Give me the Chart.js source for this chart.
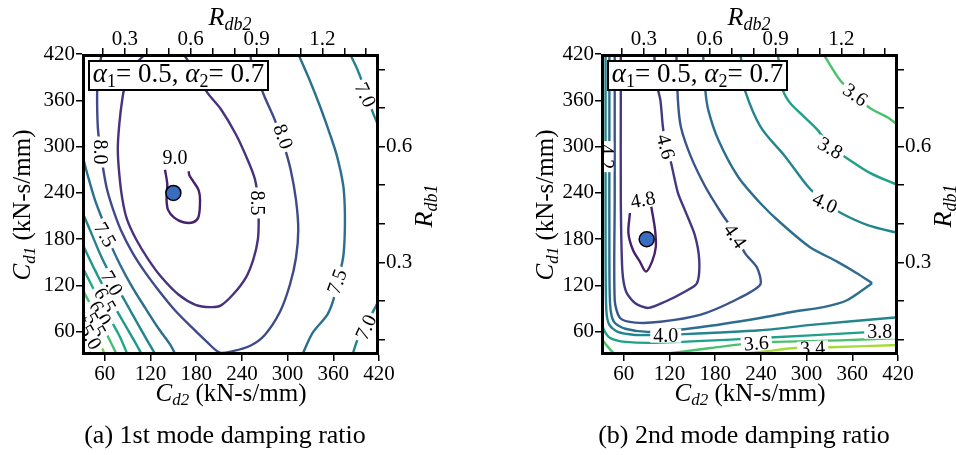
<!DOCTYPE html>
<html>
<head>
<meta charset="utf-8">
<script src="https://cdn.jsdelivr.net/npm/chart.js@4.4.1/dist/chart.umd.min.js"></script>
<style>
html,body{margin:0;padding:0;background:#fff;}
body{width:956px;height:455px;position:relative;overflow:hidden;font-family:'Liberation Serif',serif;}
.panel{position:absolute;top:0;width:478px;height:455px;}
.warm{position:absolute;left:-999px;top:0;font-size:20px;}
</style>
</head>
<body>
<span class="warm">0.3 <i>Cd</i> αα</span>
<div class="panel" style="left:0"><canvas id="chartA" width="478" height="455"></canvas></div>
<div class="panel" style="left:478px"><canvas id="chartB" width="478" height="455"></canvas></div>
<script>
// ---------- axis values ----------
const AXIS_MIN = 30, AXIS_MAX = 420;
const CD_TICKS = [60, 120, 180, 240, 300, 360, 420];
const RDB2_TICKS = [0.2, 0.3, 0.4, 0.5, 0.6, 0.7, 0.8, 0.9, 1.0, 1.1, 1.2, 1.3, 1.4];
const RDB2_LABELS = [0.3, 0.6, 0.9, 1.2];
const RDB1_TICKS = [0.1, 0.2, 0.3, 0.4, 0.5, 0.6, 0.7, 0.8];
const RDB1_LABELS = [0.3, 0.6];
const CD2_PER_RDB2 = 288;   // C_d2 value for R_db2 = 1
const CD1_PER_RDB1 = 500;   // C_d1 value for R_db1 = 1

// ---------- (a) 1st mode damping ratio : contour lines [C_d2, C_d1] ----------
const a_optimum = [150, 240];
const a_c90 = [[139,270],[142,251],[141,232],[143,218],[151,208],[163,202],[176,202],[183,209],[185,231],[183,244],[176,255],[171,263],[170,268]];
const a_c85 = [[113,420],[97,403],[87,381],[83,362],[79,329],[77,297],[79,264],[83,232],[89,206],[101,180],[117,154],[135,130],[157,108],[179,95],[199,92],[212,94],[228,108],[245,130],[255,154],[261,180],[262,206],[261,232],[257,258],[247,284],[232,316],[212,349],[196,368],[179,394],[170,410],[163,420]];
const a_c80 = [[56,420],[52,399],[50,373],[50,347],[51,322],[54,296],[58,270],[63,244],[71,218],[81,192],[96,163],[113,137],[132,112],[152,88],[174,66],[194,47],[211,33],[228,35],[251,42],[270,56],[290,86],[303,121],[311,156],[314,192],[311,231],[304,270],[295,302],[283,335],[270,364],[260,389],[253,406],[251,420]];
const a_c75_left = [[31,287],[38,261],[47,231],[58,202],[67,175],[80,147],[96,118],[113,91],[130,65],[146,43],[153,30]];
const a_c75_right = [[314,420],[329,386],[343,351],[356,315],[365,287],[373,250],[375,222],[375,186],[373,157],[368,134],[360,101],[352,82],[333,59],[320,32]];
const a_c70_top = [[382,420],[392,399],[402,373],[412,344],[420,325]];
const a_c70_bottom = [[420,101],[412,86],[402,66],[392,50],[385,30]];
const a_c70_left = [[31,214],[43,186],[56,156],[71,127],[87,99],[104,69],[119,43],[127,30]];
const a_c65 = [[31,173],[47,140],[64,108],[83,75],[100,46],[109,30]];
const a_c60 = [[31,143],[47,112],[64,82],[80,53],[90,30]];
const a_c55 = [[31,114],[47,85],[63,56],[76,30]];
const a_c50 = [[31,88],[47,62],[60,30]];
const a_c45 = [[31,62],[44,30]];

// ---------- (b) 2nd mode damping ratio ----------
const b_optimum = [90, 180];
const b_c48 = [[68,214],[66,188],[72,166],[81,151],[89,138],[97,151],[102,170],[101,192],[98,211],[96,222]];
const b_c46 = [[56,420],[56,360],[56,231],[58,140],[63,112],[75,97],[92,91],[114,99],[140,112],[156,123],[159,153],[153,186],[140,218],[131,240],[121,283],[115,300],[111,328],[108,360],[102,386],[100,420]];
const b_c44 = [[48,420],[48,231],[48,101],[55,78],[75,72],[108,73],[160,82],[206,101],[239,121],[235,143],[219,162],[206,188],[188,214],[167,248],[148,287],[135,325],[131,360],[129,420]];
const b_c42_lower = [[41,420],[41,296],[41,166],[42,95],[47,73],[62,64],[94,60],[160,66],[239,78],[282,86],[322,92],[353,101],[386,123]];
const b_c42_upper = [[386,123],[366,136],[340,151],[304,170],[265,202],[239,227],[210,261],[184,309],[171,347],[167,373],[164,420]];
const b_c40_upper = [[213,420],[217,393],[219,373],[240,325],[272,287],[302,248],[324,228],[345,214],[381,198],[420,188]];
const b_c40_lower = [[36,420],[36,166],[37,88],[41,69],[52,60],[75,56],[94,56],[140,57],[239,62],[306,69],[420,79]];
const b_c38_upper = [[262,420],[266,395],[269,373],[278,357],[291,344],[314,322],[331,300],[353,285],[383,266],[420,250]];
const b_c38_lower = [[30,75],[34,62],[42,52],[62,47],[108,46],[239,52],[370,59],[420,62]];
const b_c36_upper = [[322,420],[344,386],[364,367],[383,350],[406,338],[420,328]];
const b_c36_corner = [[30,52],[37,43],[44,35],[48,30]];
const b_c36_lower = [[101,30],[134,34],[174,39],[234,46],[259,47],[344,49],[420,52]];
const b_c34 = [[193,30],[239,34],[285,39],[332,40],[420,43]];

// contour label positions [C_d2, C_d1, text, angle(deg)]
const a_labels = [[152,285,'9.0',0],[260,227,'8.5',90],[294,313,'8.0',70],[54,293,'8.0',90],[60,186,'7.5',60],[365,125,'7.5',-70],[402,367,'7.0',65],[403,66,'7.0',-65],[69,123,'7.0',60],[60,101,'6.5',60],[54,84,'6.0',60],[47,69,'5.5',60],[41,53,'5.0',60]];
const b_labels = [[85,231,'4.8',-10],[115,300,'4.6',75],[206,184,'4.4',55],[37,287,'4.2',90],[324,227,'4.0',25],[115,55,'4.0',0],[331,298,'3.8',30],[396,60,'3.8',0],[364,367,'3.6',35],[234,45,'3.6',-4],[308,39,'3.4',-3]];

// ---------- styles ----------
const SERIF = "'Liberation Serif', serif";
const LEVEL_COLORS = {
  '9.0':'#47206f','8.5':'#46327e','8.0':'#3e4a89','7.5':'#2b6f8e','7.0':'#23838e','6.5':'#1f988b','6.0':'#22a884','5.5':'#44bf70','5.0':'#7ad151','4.5':'#bddf26',
  '4.8':'#47206f','4.6':'#453781','4.4':'#39568c','4.2':'#2d6e8e','4.0':'#23868e','3.8':'#1fa088','3.6':'#4ac16d','3.4':'#a5db36'
};

function lineSet(level, arr, tension){
  return {label: level, data: arr.map(p => ({x: p[0], y: p[1]})), showLine: true, borderColor: LEVEL_COLORS[level],
    borderWidth: 2.4, pointRadius: 0, tension: tension === undefined ? 0.3 : tension, fill: false, order: 2};
}
function dotSet(pt){
  return {label:'optimum', data:[{x:pt[0], y:pt[1]}], showLine:false, pointRadius:7.5, pointBackgroundColor:'#3a6cc2',
    pointBorderColor:'#000', pointBorderWidth:1.5, order: 0};
}

function drawRich(ctx, parts, cx, cy, rot, size){
  ctx.save();
  ctx.translate(cx, cy); ctx.rotate(rot);
  let total = 0;
  const segs = parts.map(p => {
    const fs = Math.round(p.sub ? size * 0.68 : size);
    const font = (p.italic ? 'italic ' : 'normal ') + fs + 'px ' + SERIF;
    ctx.font = font;
    const w = ctx.measureText(p.t).width;
    total += w;
    return {t: p.t, font, w, dy: p.sub ? size * 0.28 : 0};
  });
  let x = -total / 2;
  ctx.textBaseline = 'middle'; ctx.textAlign = 'left'; ctx.fillStyle = '#000';
  segs.forEach(s => { ctx.font = s.font; ctx.fillText(s.t, x, s.dy); x += s.w; });
  ctx.restore();
}

const decorPlugin = {
  id: 'decor',
  afterDatasetsDraw(chart, args, opts){
    const ctx = chart.ctx, ca = chart.chartArea;
    const xs = chart.scales.x, ys = chart.scales.y;
    ctx.save();
    ctx.beginPath(); ctx.rect(ca.left, ca.top, ca.right - ca.left, ca.bottom - ca.top); ctx.clip();
    ctx.font = '20px ' + SERIF;
    ctx.textAlign = 'center'; ctx.textBaseline = 'middle';
    opts.labels.forEach(l => {
      const px = xs.getPixelForValue(l[0]), py = ys.getPixelForValue(l[1]);
      ctx.save();
      ctx.translate(px, py); ctx.rotate(l[3] * Math.PI / 180);
      const w = ctx.measureText(l[2]).width;
      ctx.fillStyle = '#fff';
      ctx.fillRect(-w/2 - 3, -7, w + 6, 14);
      ctx.fillStyle = '#000';
      ctx.fillText(l[2], 0, 1);
      ctx.restore();
    });
    ctx.restore();
    const bx = ca.left + 7, by = ca.top + 7, bw = 179, bh = 29;
    ctx.save();
    ctx.fillStyle = '#fff'; ctx.fillRect(bx, by, bw, bh);
    ctx.lineWidth = 2; ctx.strokeStyle = '#000'; ctx.strokeRect(bx, by, bw, bh);
    ctx.restore();
    drawRich(ctx, [{t:'α',italic:true},{t:'1',sub:true},{t:'= 0.5, '},{t:'α',italic:true},{t:'2',sub:true},{t:'= 0.7'}], bx + bw/2, by + bh/2 - 1, 0, 27);
    ctx.save();
    ctx.lineWidth = 3; ctx.strokeStyle = '#000';
    ctx.strokeRect(ca.left + 1.5, ca.top + 1.5, ca.right - ca.left - 3, ca.bottom - ca.top - 3);
    ctx.restore();
  },
  afterDraw(chart, args, opts){
    const ctx = chart.ctx, ca = chart.chartArea;
    drawRich(ctx, [{t:'C',italic:true},{t:'d2',italic:true,sub:true},{t:' (kN-s/mm)'}], ca.left + 149, 394, 0, 25);
    drawRich(ctx, [{t:'C',italic:true},{t:'d1',italic:true,sub:true},{t:' (kN-s/mm)'}], opts.leftTitleX, 205, -Math.PI/2, 25);
    drawRich(ctx, [{t:'R',italic:true},{t:'db2',italic:true,sub:true}], ca.left + 148, 18, 0, 26);
    drawRich(ctx, [{t:'R',italic:true},{t:'db1',italic:true,sub:true}], ca.right + 46, 206, -Math.PI/2, 26);
    ctx.save();
    ctx.font = 'normal 26px ' + SERIF; ctx.fillStyle = '#000'; ctx.textAlign = 'center'; ctx.textBaseline = 'middle';
    ctx.fillText(opts.caption, ca.left + 143, 436);
    ctx.restore();
  }
};

function makeScales(box){
  const tickFont = {family: SERIF, size: 21, style: 'normal', weight: 'normal'};
  const grid = {display: true, drawOnChartArea: false, drawTicks: true, tickLength: 6, tickWidth: 1.5, tickColor: '#000', color: '#000', lineWidth: 1.5};
  const near = (arr, v) => arr.some(a => Math.abs(a - v) < 1e-6);
  return {
    x: {type: 'linear', position: 'bottom', min: AXIS_MIN, max: AXIS_MAX, grid, border: {display: false},
      ticks: {font: tickFont, color: '#000', padding: 1, maxRotation: 0, autoSkip: false},
      afterBuildTicks: s => { s.ticks = CD_TICKS.map(v => ({value: v})); },
      afterFit: s => { s.height = box.bottom; }},
    y: {type: 'linear', position: 'left', min: AXIS_MIN, max: AXIS_MAX, grid, border: {display: false},
      ticks: {font: tickFont, color: '#000', padding: 1, autoSkip: false},
      afterBuildTicks: s => { s.ticks = CD_TICKS.map(v => ({value: v})); },
      afterFit: s => { s.width = box.left; }},
    x2: {type: 'linear', position: 'top', min: AXIS_MIN / CD2_PER_RDB2, max: AXIS_MAX / CD2_PER_RDB2, grid, border: {display: false},
      ticks: {font: tickFont, color: '#000', padding: -4, maxRotation: 0, autoSkip: false,
        callback: v => near(RDB2_LABELS, v) ? v.toFixed(1) : ''},
      afterBuildTicks: s => { s.ticks = RDB2_TICKS.map(v => ({value: v})); },
      afterFit: s => { s.height = box.top; }},
    y2: {type: 'linear', position: 'right', min: AXIS_MIN / CD1_PER_RDB1, max: AXIS_MAX / CD1_PER_RDB1, grid, border: {display: false},
      ticks: {font: tickFont, color: '#000', padding: 1, autoSkip: false,
        callback: v => near(RDB1_LABELS, v) ? v.toFixed(1) : ''},
      afterBuildTicks: s => { s.ticks = RDB1_TICKS.map(v => ({value: v})); },
      afterFit: s => { s.width = box.right; }}
  };
}

function makeChart(id, datasets, labels, box, caption, leftTitleX){
  return new Chart(document.getElementById(id), {
    type: 'scatter',
    data: {datasets},
    options: {
      responsive: false, animation: false, events: [],
      layout: {padding: 0},
      font: {family: SERIF},
      scales: makeScales(box),
      plugins: {legend: {display: false}, tooltip: {enabled: false},
        decor: {labels, caption, leftTitleX}}
    },
    plugins: [decorPlugin]
  });
}

function build(){
  Chart.defaults.font.family = SERIF;
  makeChart('chartA', [
    dotSet(a_optimum),
    lineSet('9.0', a_c90), lineSet('8.5', a_c85), lineSet('8.0', a_c80),
    lineSet('7.5', a_c75_left), lineSet('7.5', a_c75_right),
    lineSet('7.0', a_c70_top), lineSet('7.0', a_c70_bottom), lineSet('7.0', a_c70_left),
    lineSet('6.5', a_c65), lineSet('6.0', a_c60), lineSet('5.5', a_c55), lineSet('5.0', a_c50), lineSet('4.5', a_c45)
  ], a_labels, {left: 82, right: 99, top: 54, bottom: 100}, '(a) 1st mode damping ratio', 23.5);

  makeChart('chartB', [
    dotSet(b_optimum),
    lineSet('4.8', b_c48), lineSet('4.6', b_c46, 0.25), lineSet('4.4', b_c44, 0.25),
    lineSet('4.2', b_c42_lower, 0.25), lineSet('4.2', b_c42_upper, 0.25),
    lineSet('4.0', b_c40_upper), lineSet('4.0', b_c40_lower, 0.25),
    lineSet('3.8', b_c38_upper), lineSet('3.8', b_c38_lower),
    lineSet('3.6', b_c36_upper), lineSet('3.6', b_c36_corner), lineSet('3.6', b_c36_lower), lineSet('3.4', b_c34)
  ], b_labels, {left: 123, right: 58, top: 54, bottom: 100}, '(b) 2nd mode damping ratio', 68.5);
}

const fontLoads = ['normal 21px', 'italic 25px', 'normal 26px', 'italic 17px', 'normal 18px'].map(f => document.fonts.load(f + " 'Liberation Serif'"));
Promise.all(fontLoads).then(build, build);
</script>
</body>
</html>
